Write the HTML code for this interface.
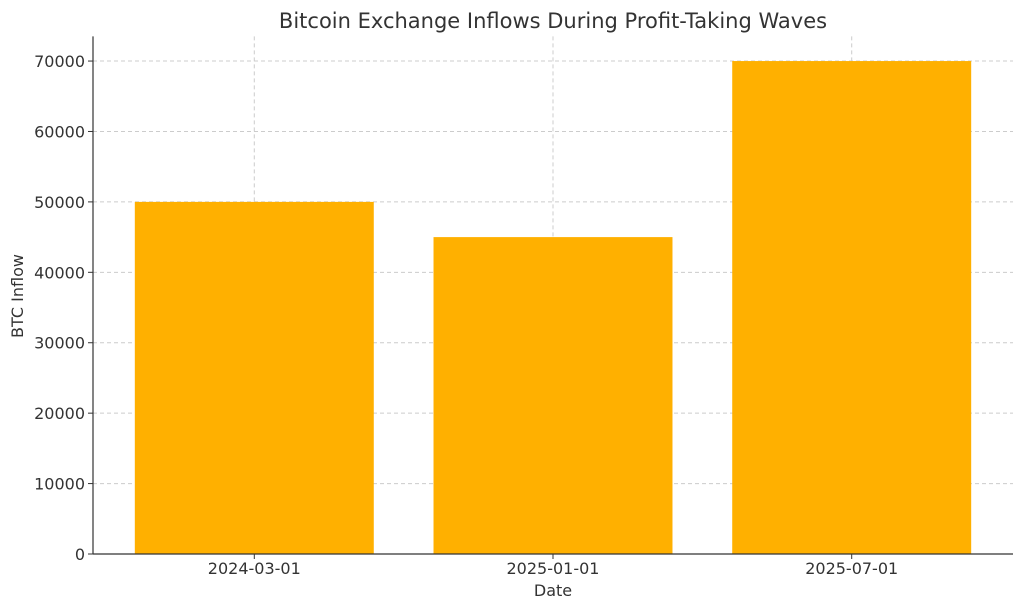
<!DOCTYPE html>
<html><head><meta charset="utf-8"><style>body{margin:0;background:#fff}svg{display:block;font-family:"DejaVu Sans","Liberation Sans",sans-serif}</style></head>
<body>
<svg id="chart" width="1024" height="610" viewBox="0 0 1024 610">
<text x="553" y="28" text-anchor="middle" font-size="21" fill="#333">Bitcoin Exchange Inflows During Profit-Taking Waves</text>
<g id="grid"></g><g id="bars"></g><g id="axes"></g>
<text x="553" y="596" text-anchor="middle" font-size="16" fill="#333">Date</text>
<text transform="translate(23,296) rotate(-90)" text-anchor="middle" font-size="16" fill="#333">BTC Inflow</text>
</svg>
<script>
const categories = ["2024-03-01","2025-01-01","2025-07-01"];
const inflows = [50000, 45000, 70000];
const yTicks = [0,10000,20000,30000,40000,50000,60000,70000];
const L=93,R=1013,B=554,T=36.4,yMax=73500;
const x0=-0.54,x1=2.54;
const xs=v=>L+(v-x0)/(x1-x0)*(R-L);
const ys=v=>B-v/yMax*(B-T);
const NS="http://www.w3.org/2000/svg";
function mk(t,a,p){const e=document.createElementNS(NS,t);for(const k in a)e.setAttribute(k,a[k]);p.appendChild(e);return e;}
const g=document.getElementById('grid'),b=document.getElementById('bars'),ax=document.getElementById('axes');
yTicks.forEach(v=>{
 const l=mk('line',{x1:L,x2:R,y1:ys(v),y2:ys(v),stroke:'#ccc','stroke-dasharray':'4,3','stroke-width':1},g);
 
 
 const tk=mk('line',{x1:L-5,x2:L,y1:ys(v),y2:ys(v),stroke:'#333'},ax);
 
 
 const t=mk('text',{x:L-8,y:ys(v)+6,'text-anchor':'end','font-size':16,fill:'#333'},ax);t.textContent=v;
 
 
});
categories.forEach((c,i)=>{
 const l=mk('line',{x1:xs(i),x2:xs(i),y1:T,y2:B,stroke:'#ccc','stroke-dasharray':'4,3','stroke-width':1},g);
 
 
 const w=xs(0.4)-xs(-0.4);
 const r=mk('rect',{x:xs(i)-w/2,y:ys(inflows[i]),width:w,height:B-ys(inflows[i]),fill:'#FFB000'},b);
 
 
 const tk=mk('line',{x1:xs(i),x2:xs(i),y1:B,y2:B+5,stroke:'#333'},ax);
 
 
 const t=mk('text',{x:xs(i),y:B+20,'text-anchor':'middle','font-size':16,fill:'#333'},ax);t.textContent=c;
 
 
});
const sl=mk('line',{x1:L,x2:L,y1:T,y2:B,stroke:'#333','stroke-width':1.2},ax);


const sb=mk('line',{x1:L,x2:R,y1:B,y2:B,stroke:'#333','stroke-width':1.2},ax);


</script>
</body></html>
